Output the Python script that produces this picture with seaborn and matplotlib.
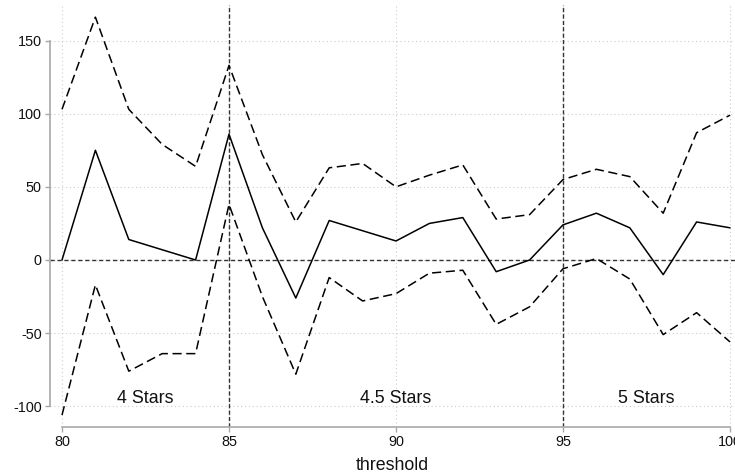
import matplotlib
matplotlib.use("Agg")
import matplotlib.pyplot as plt
import numpy as np
import pandas as pd
import seaborn as sns

# Discontinuity estimates by rating threshold, with 95% confidence bounds
threshold = list(range(80, 101))
estimate = [0, 75, 14, 7, 0, 86, 22, -26, 27, 20, 13, 25, 29, -8, 0,
            24, 32, 22, -10, 26, 22]
upper = [103, 166, 103, 79, 64, 133, 72, 26, 63, 66, 50, 58, 65, 28, 31,
         55, 62, 57, 32, 87, 99]
lower = [-106, -17, -76, -64, -64, 38, -25, -78, -12, -28, -23, -9, -7, -44, -32,
         -6, 1, -13, -51, -36, -56]

# Star-rating cutoffs and the regions they delimit
cutoffs = [85, 95]
region_labels = ["4 Stars", "4.5 Stars", "5 Stars"]
region_centers = [82.5, 90, 97.5]

x_ticks = [80, 85, 90, 95, 100]
y_ticks = [-100, -50, 0, 50, 100, 150]

sns.set_theme(style="white")
plt.rcParams["font.family"] = ["Liberation Sans", "DejaVu Sans"]

df = pd.DataFrame({
    "threshold": threshold * 3,
    "value": estimate + upper + lower,
    "series": ["estimate"] * len(threshold) + ["upper"] * len(threshold) + ["lower"] * len(threshold),
})

fig = plt.figure(figsize=(7.35, 4.75), dpi=100)
W, H = 735, 475
left_px, right_px, top_px, bottom_px = 50, 735, 5, 427
ax = fig.add_axes([left_px / W, 1 - bottom_px / H,
                   (right_px - left_px) / W, (bottom_px - top_px) / H])

# pixel scale: 33.4 px per threshold unit, 1.463 px per outcome unit
ax.set_xlim(80 - 12 / 33.4, 100 + 5 / 33.4)
ax.set_ylim(-(427 - 260) / 1.463, (260 - 5) / 1.463)

# dotted background grid
for xv in x_ticks:
    ax.axvline(xv, color="#cccccc", lw=0.8, ls=(0, (1, 2.5)), zorder=0)
for yv in y_ticks:
    ax.axhline(yv, color="#cccccc", lw=0.8, ls=(0, (1, 2.5)), zorder=0)

# reference lines
ax.axhline(0, color="#333333", lw=1.0, ls=(0, (3, 2)), zorder=1)
for c in cutoffs:
    ax.axvline(c, color="#333333", lw=1.0, ls=(0, (3, 1.6)), zorder=1)

sns.lineplot(data=df[df.series == "estimate"], x="threshold", y="value",
             color="black", lw=1.1, ax=ax, zorder=3)
sns.lineplot(data=df[df.series == "upper"], x="threshold", y="value",
             color="black", lw=1.1, ax=ax, zorder=3).lines[-1].set_dashes((6, 3))
sns.lineplot(data=df[df.series == "lower"], x="threshold", y="value",
             color="black", lw=1.1, ax=ax, zorder=3).lines[-1].set_dashes((6, 3))

for lab, xc in zip(region_labels, region_centers):
    ax.text(xc, -97.7, lab, ha="center", va="baseline", fontsize=12.9, color="#111111")

ax.set_xticks(x_ticks)
ax.set_yticks(y_ticks)
ax.set_xticklabels([str(v) for v in x_ticks])
ax.set_yticklabels([str(v) for v in y_ticks])
ax.tick_params(axis="both", which="major", length=3.6, width=1.0, color="#a8a8a8",
               labelsize=10.4, labelcolor="#111111", direction="out", pad=2.5,
               left=True, bottom=True)
ax.set_xlabel("threshold", fontsize=12.8, color="#111111", labelpad=5.5)
ax.set_ylabel("")

for side in ["top", "right"]:
    ax.spines[side].set_visible(False)
for side in ["left", "bottom"]:
    ax.spines[side].set_color("#a8a8a8")
    ax.spines[side].set_linewidth(1.2)
ax.spines["left"].set_bounds(-100, 150)
ax.spines["bottom"].set_bounds(80, 100)

fig.savefig("out.png", dpi=100)
